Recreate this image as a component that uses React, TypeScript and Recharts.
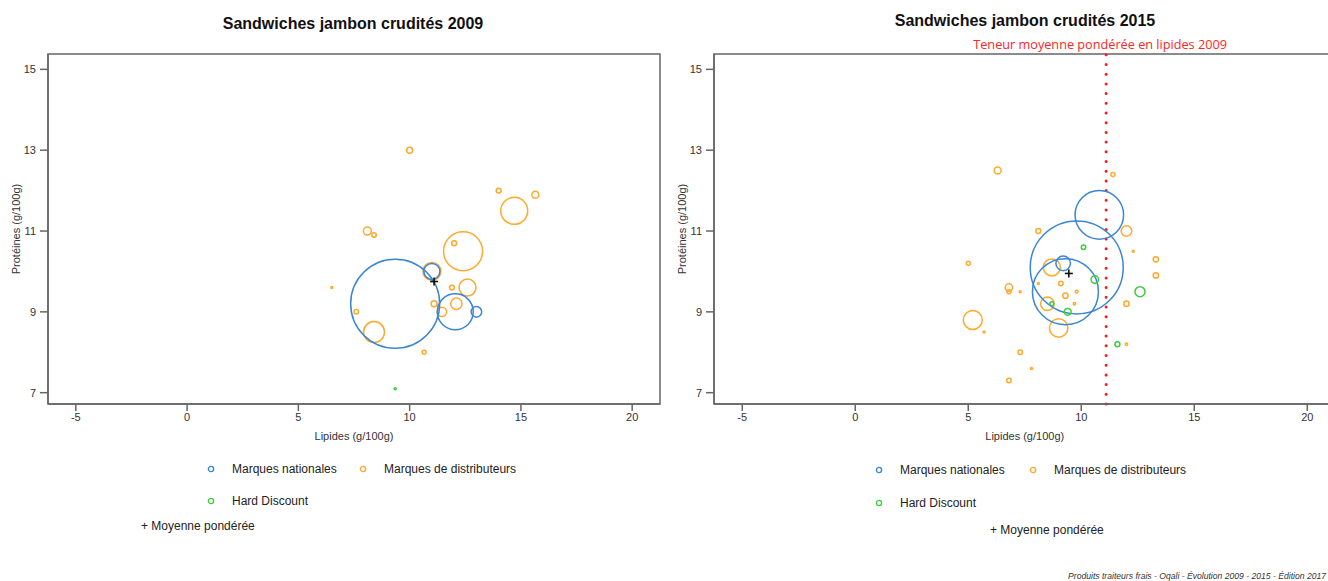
import React from 'react'
import {
  ReferenceArea,
  ReferenceLine,
  Scatter,
  ScatterChart,
  XAxis,
  YAxis,
  ZAxis
} from 'recharts'

type Pt = { lipides: number; proteines: number; poids: number }

// 2009
const mn2009: Pt[] = [
  { lipides: 9.35, proteines: 9.2, poids: 1980 },
  { lipides: 11.0, proteines: 10.0, poids: 64 },
  { lipides: 12.05, proteines: 9.0, poids: 324 },
  { lipides: 13.0, proteines: 9.0, poids: 28 }
]
const mdd2009: Pt[] = [
  { lipides: 10.0, proteines: 13.0, poids: 9 },
  { lipides: 14.0, proteines: 12.0, poids: 6 },
  { lipides: 15.65, proteines: 11.9, poids: 12 },
  { lipides: 14.7, proteines: 11.5, poids: 182 },
  { lipides: 8.1, proteines: 11.0, poids: 16 },
  { lipides: 8.4, proteines: 10.9, poids: 5 },
  { lipides: 12.0, proteines: 10.7, poids: 6 },
  { lipides: 12.4, proteines: 10.5, poids: 380 },
  { lipides: 11.0, proteines: 10.0, poids: 81 },
  { lipides: 6.5, proteines: 9.6, poids: 1 },
  { lipides: 11.9, proteines: 9.6, poids: 6 },
  { lipides: 12.6, proteines: 9.6, poids: 72 },
  { lipides: 11.1, proteines: 9.2, poids: 9 },
  { lipides: 12.1, proteines: 9.2, poids: 32 },
  { lipides: 11.45, proteines: 9.0, poids: 22 },
  { lipides: 7.6, proteines: 9.0, poids: 5 },
  { lipides: 8.4, proteines: 8.5, poids: 110 },
  { lipides: 10.65, proteines: 8.0, poids: 4 }
]
const hd2009: Pt[] = [{ lipides: 9.35, proteines: 7.1, poids: 1 }]
const moy2009 = [{ lipides: 11.1, proteines: 9.75 }]

// 2015
const mn2015: Pt[] = [
  { lipides: 10.8, proteines: 11.4, poids: 590 },
  { lipides: 9.8, proteines: 10.1, poids: 2162 },
  { lipides: 9.2, proteines: 10.2, poids: 53 },
  { lipides: 9.3, proteines: 9.5, poids: 1089 }
]
const mdd2015: Pt[] = [
  { lipides: 6.3, proteines: 12.5, poids: 12 },
  { lipides: 11.4, proteines: 12.4, poids: 4 },
  { lipides: 8.1, proteines: 11.0, poids: 6 },
  { lipides: 12.0, proteines: 11.0, poids: 28 },
  { lipides: 12.3, proteines: 10.5, poids: 1 },
  { lipides: 13.3, proteines: 10.3, poids: 7 },
  { lipides: 13.3, proteines: 9.9, poids: 7 },
  { lipides: 5.0, proteines: 10.2, poids: 4 },
  { lipides: 8.7, proteines: 10.1, poids: 72 },
  { lipides: 6.8, proteines: 9.6, poids: 14 },
  { lipides: 6.8, proteines: 9.5, poids: 4 },
  { lipides: 7.3, proteines: 9.5, poids: 1 },
  { lipides: 8.1, proteines: 9.7, poids: 1 },
  { lipides: 9.1, proteines: 9.7, poids: 5 },
  { lipides: 9.8, proteines: 9.5, poids: 2 },
  { lipides: 9.3, proteines: 9.4, poids: 7 },
  { lipides: 9.7, proteines: 9.2, poids: 1.5 },
  { lipides: 8.5, proteines: 9.2, poids: 45 },
  { lipides: 12.0, proteines: 9.2, poids: 7 },
  { lipides: 5.2, proteines: 8.8, poids: 90 },
  { lipides: 5.7, proteines: 8.5, poids: 1 },
  { lipides: 9.0, proteines: 8.6, poids: 85 },
  { lipides: 7.3, proteines: 8.0, poids: 5 },
  { lipides: 7.8, proteines: 7.6, poids: 1 },
  { lipides: 6.8, proteines: 7.3, poids: 5 },
  { lipides: 12.0, proteines: 8.2, poids: 1.5 }
]
const hd2015: Pt[] = [
  { lipides: 10.1, proteines: 10.6, poids: 5 },
  { lipides: 10.6, proteines: 9.8, poids: 14 },
  { lipides: 12.6, proteines: 9.5, poids: 25 },
  { lipides: 9.4, proteines: 9.0, poids: 12 },
  { lipides: 8.7, proteines: 9.2, poids: 4 },
  { lipides: 11.6, proteines: 8.2, poids: 6 }
]
const moy2015 = [{ lipides: 9.45, proteines: 9.95 }]
const lipidesMoyen2009 = 11.1

const xTicks = [-5, 0, 5, 10, 15, 20]
const yTicks = [7, 9, 11, 13, 15]
const xDomain: [number, number] = [-6.25, 21.25]
const yDomain: [number, number] = [6.72, 15.38]

const BLUE = '#3a86d5'
const ORANGE = '#ffa92e'
const GREEN = '#3fcd3f'
const AXIS = '#666'
const FONT = '"Liberation Sans", Arial, sans-serif'

const bubble = (color: string) => (props: any) => {
  const { cx, cy } = props
  const size = props.size ?? Math.PI * (props.payload?.poids ?? 1)
  const r = Math.max(Math.sqrt(size / Math.PI), 0.8)
  return <circle cx={cx} cy={cy} r={r} fill="none" stroke={color} strokeWidth={1.5} />
}

const Cross = (props: any) => {
  const { cx, cy } = props
  return (
    <g stroke="#111" strokeWidth={1.6}>
      <line x1={cx - 4} x2={cx + 4} y1={cy} y2={cy} />
      <line x1={cx} x2={cx} y1={cy - 4} y2={cy + 4} />
    </g>
  )
}

const tick = { fontSize: 11, fill: '#333', fontFamily: FONT }

function Panel({
  mn,
  mdd,
  hd,
  moy,
  width,
  marginLeft,
  marginRight,
  refLine
}: {
  mn: Pt[]
  mdd: Pt[]
  hd: Pt[]
  moy: { lipides: number; proteines: number }[]
  width: number
  marginLeft: number
  marginRight: number
  refLine?: number
}) {
  return (
    <ScatterChart
      width={width}
      height={450}
      margin={{ top: 54, right: marginRight, bottom: 6, left: marginLeft }}
    >
      <XAxis
        type="number"
        dataKey="lipides"
        domain={xDomain}
        ticks={xTicks}
        allowDataOverflow
        height={40}
        tick={tick}
        tickSize={7}
        tickMargin={2}
        axisLine={{ stroke: AXIS, strokeWidth: 1.5 }}
        tickLine={{ stroke: AXIS, strokeWidth: 1.5 }}
        label={{
          value: 'Lipides (g/100g)',
          position: 'insideBottom',
          offset: 4,
          style: { fontSize: 11, fill: '#333', fontFamily: FONT }
        }}
      />
      <YAxis
        type="number"
        dataKey="proteines"
        domain={yDomain}
        ticks={yTicks}
        allowDataOverflow
        width={40}
        tick={tick}
        tickSize={8}
        tickMargin={4}
        axisLine={{ stroke: AXIS, strokeWidth: 1.5 }}
        tickLine={{ stroke: AXIS, strokeWidth: 1.5 }}
        label={{
          value: 'Protéines (g/100g)',
          angle: -90,
          position: 'insideLeft',
          offset: 8,
          style: { fontSize: 11, fill: '#333', fontFamily: FONT, textAnchor: 'middle' }
        }}
      />
      <ZAxis type="number" dataKey="poids" domain={[0, 2500]} range={[0, 2500 * Math.PI]} />
      <ReferenceArea
        x1={xDomain[0]}
        x2={xDomain[1]}
        y1={yDomain[0]}
        y2={yDomain[1]}
        fill="none"
        stroke={AXIS}
        strokeWidth={1.5}
      />
      {refLine !== undefined && (
        <ReferenceLine
          x={refLine}
          stroke="#ff1a1a"
          strokeWidth={3}
          strokeDasharray="0 9.7"
          strokeLinecap="round"
          label={{
            value: 'Teneur moyenne pondérée en lipides 2009',
            position: 'top',
            offset: 5,
            dx: -6,
            fill: '#ff2424',
            fontSize: 12.7,
            fontFamily: '"Open Sans", sans-serif'
          }}
        />
      )}
      <Scatter data={mdd} shape={bubble(ORANGE)} isAnimationActive={false} />
      <Scatter data={mn} shape={bubble(BLUE)} isAnimationActive={false} />
      <Scatter data={hd} shape={bubble(GREEN)} isAnimationActive={false} />
      <Scatter data={moy} shape={<Cross />} isAnimationActive={false} />
    </ScatterChart>
  )
}

const abs = (left: number, top: number): React.CSSProperties => ({
  position: 'absolute',
  left,
  top,
  whiteSpace: 'nowrap'
})

const Dot = ({ color }: { color: string }) => (
  <svg width={8} height={8} style={{ position: 'absolute', left: -4, top: -4 }}>
    <circle cx={4} cy={4} r={2.6} fill="none" stroke={color} strokeWidth={1.4} />
  </svg>
)

function LegendItem({ x, y, color, label }: { x: number; y: number; color: string; label: string }) {
  return (
    <>
      <div style={abs(x, y)}>
        <Dot color={color} />
      </div>
      <div style={{ ...abs(x + 21, y - 8), fontSize: 12, lineHeight: '16px', color: '#222' }}>{label}</div>
    </>
  )
}

const titleStyle: React.CSSProperties = {
  textAlign: 'center',
  fontSize: 16,
  fontWeight: 'bold',
  lineHeight: '20px',
  color: '#111'
}

export default function App() {
  return (
    <div
      style={{
        position: 'absolute',
        left: 0,
        top: 0,
        width: 1328,
        height: 581,
        overflow: 'hidden',
        background: '#fff',
        fontFamily: FONT
      }}
    >
      <div style={abs(0, 0)}>
        <Panel mn={mn2009} mdd={mdd2009} hd={hd2009} moy={moy2009} width={664} marginLeft={8} marginRight={4} />
      </div>
      <div style={abs(664, 0)}>
        <Panel
          mn={mn2015}
          mdd={mdd2015}
          hd={hd2015}
          moy={moy2015}
          width={680}
          marginLeft={10}
          marginRight={8.5}
          refLine={lipidesMoyen2009}
        />
      </div>

      <div style={{ ...abs(0, 14), width: 706, ...titleStyle }}>Sandwiches jambon crudités 2009</div>
      <div style={{ ...abs(714, 11), width: 622, ...titleStyle }}>Sandwiches jambon crudités 2015</div>

      <LegendItem x={211} y={469} color={BLUE} label="Marques nationales" />
      <LegendItem x={363} y={469} color={ORANGE} label="Marques de distributeurs" />
      <LegendItem x={211} y={501} color={GREEN} label="Hard Discount" />
      <div style={{ ...abs(141, 518), fontSize: 12, lineHeight: '16px', color: '#222' }}>+ Moyenne pondérée</div>

      <LegendItem x={879} y={470} color={BLUE} label="Marques nationales" />
      <LegendItem x={1033} y={470} color={ORANGE} label="Marques de distributeurs" />
      <LegendItem x={879} y={503} color={GREEN} label="Hard Discount" />
      <div style={{ ...abs(990, 522), fontSize: 12, lineHeight: '16px', color: '#222' }}>+ Moyenne pondérée</div>

      <div
        style={{
          position: 'absolute',
          right: 2,
          top: 571,
          fontSize: 8.6,
          lineHeight: '10px',
          fontStyle: 'italic',
          color: '#333',
          whiteSpace: 'nowrap'
        }}
      >
        Produits traiteurs frais - Oqali - Évolution 2009 - 2015 - Édition 2017
      </div>
    </div>
  )
}
